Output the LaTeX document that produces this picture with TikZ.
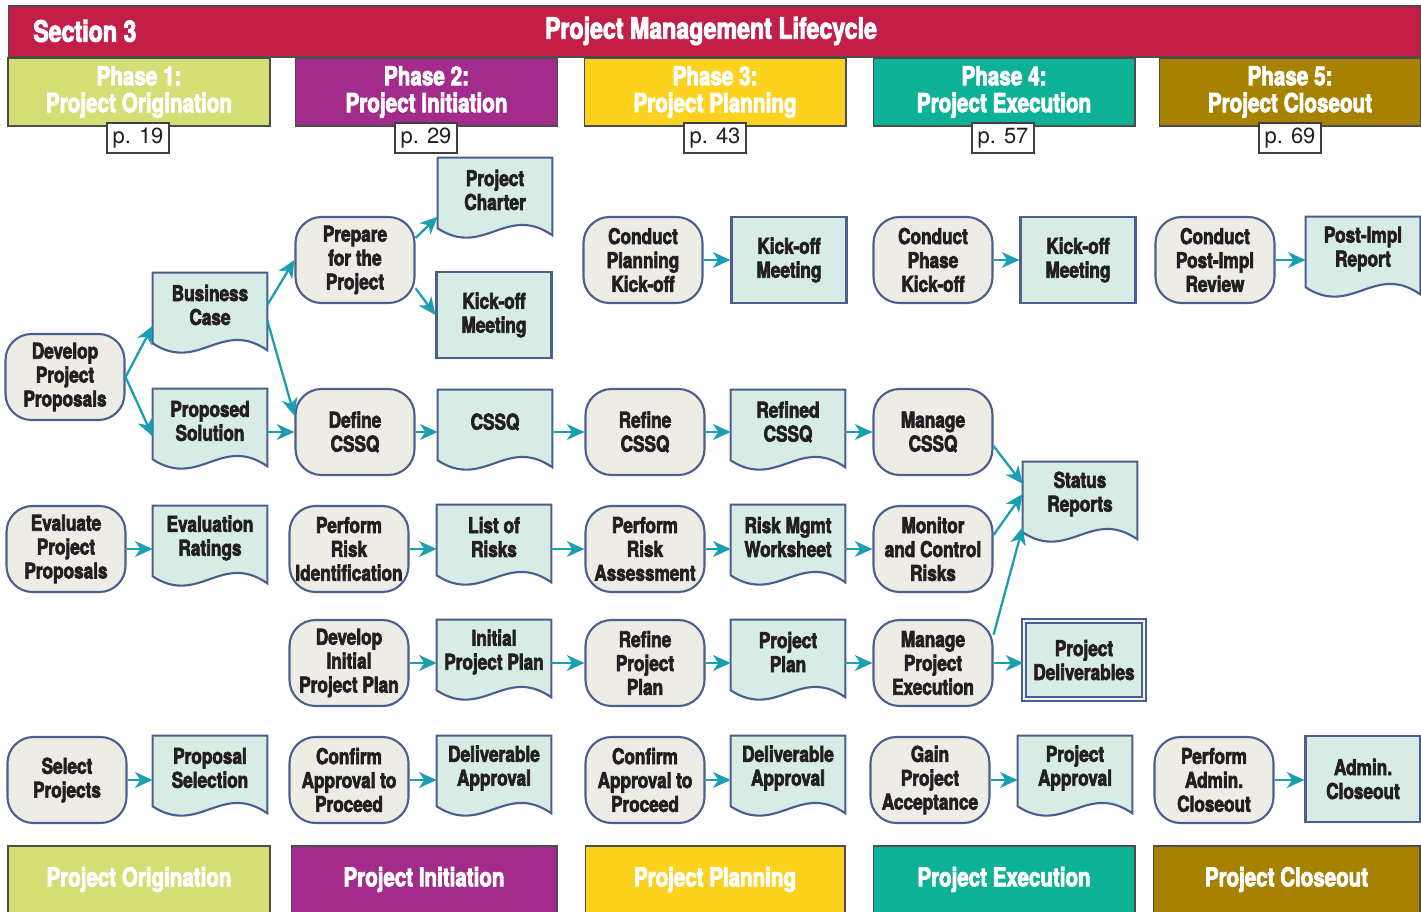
\documentclass[tikz,border=0pt]{standalone}
\usepackage{fontspec}
\setmainfont{TeX Gyre Heros}
\newfontfamily\condfont{TeX Gyre Heros}[FakeStretch=0.79, BoldFeatures={FakeBold=3}]
\usetikzlibrary{arrows.meta,calc,backgrounds}
\definecolor{hdrred}{RGB}{194,30,71}
\definecolor{phA}{RGB}{212,222,116}
\definecolor{phB}{RGB}{162,43,139}
\definecolor{phC}{RGB}{253,210,31}
\definecolor{phD}{RGB}{13,178,150}
\definecolor{phE}{RGB}{166,130,0}
\definecolor{procfill}{RGB}{237,237,230}
\definecolor{docfill}{RGB}{214,236,229}
\definecolor{bord}{RGB}{75,94,142}
\definecolor{arrowc}{RGB}{26,159,176}
\definecolor{ink}{RGB}{35,31,32}
\newcommand\dgnodefont{\condfont\bfseries\fontsize{12.4}{13.6}\selectfont}
\newcommand\dgphasefont{\condfont\bfseries\fontsize{14.9}{15.3}\selectfont}
\newcommand\dgfootfont{\condfont\bfseries\fontsize{14.8}{16}\selectfont}
\newcommand\dghdrfont{\condfont\bfseries\fontsize{16.7}{18}\selectfont}
\begin{document}
\begin{tikzpicture}[x=0.02cm,y=-0.02cm,
  proc/.style={rectangle, rounded corners=0.52cm, draw=bord, fill=procfill, line width=1.2pt,
    minimum width=2.38cm, minimum height=1.72cm, inner sep=1pt, align=center, text=ink, font=\dgnodefont},
  docn/.style={rectangle, minimum width=2.28cm, minimum height=1.4cm, inner sep=1pt, align=center, text=ink, font=\dgnodefont},
  kbox/.style={rectangle, draw=bord, fill=docfill, line width=1.2pt, minimum width=2.3cm, minimum height=1.72cm,
    inner sep=1pt, align=center, text=ink, font=\dgnodefont},
  deliv/.style={rectangle, draw=bord, fill=docfill, line width=0.8pt, double=white!60!docfill, double distance=1.3pt,
    minimum width=2.4cm, minimum height=1.56cm, inner sep=1pt, align=center, text=ink, font=\dgnodefont},
  docshape/.style={draw=bord, fill=docfill, line width=1.2pt, line join=miter},
  flow/.style={draw=arrowc, line width=1.3pt, -{Stealth[length=10pt,width=9pt,inset=3pt]}},
  phase/.style={rectangle, draw=black!70, line width=0.6pt, minimum width=5.24cm, minimum height=1.36cm,
    inner sep=0pt, text=white, align=center, font=\dgphasefont},
  foot/.style={rectangle, draw=black!70, line width=0.6pt, minimum height=1.34cm,
    inner sep=0pt, text=white, align=center, font=\dgfootfont},
  page/.style={rectangle, draw=black!75, fill=white, line width=0.6pt, minimum width=1.24cm, minimum height=0.6cm,
    inner sep=0pt, text=ink, font=\fontsize{12.5}{12.5}\selectfont},
  hdrtext/.style={text=white, font=\dghdrfont, inner sep=0pt}
]
\useasboundingbox (0,0) rectangle (1421,912);

% header
\node[rectangle, fill=hdrred, draw=black!70, line width=0.6pt, minimum width=28.26cm, minimum height=1.02cm, inner sep=0pt] (hdr) at (714.5,31.5) {};
\node[hdrtext, anchor=west] (sec) at (33,31) {Section 3};
\node[hdrtext] (title) at (711,31) {Project Management Lifecycle};

% phase boxes
\node[phase, fill=phA] (ph1) at (139,92) {Phase 1:\\Project Origination};
\node[phase, fill=phB] (ph2) at (426.5,92) {Phase 2:\\Project Initiation};
\node[phase, fill=phC] (ph3) at (715,92) {Phase 3:\\Project Planning};
\node[phase, fill=phD] (ph4) at (1004,92) {Phase 4:\\Project Execution};
\node[phase, fill=phE] (ph5) at (1290,92) {Phase 5:\\Project Closeout};

\node[page] (pg1) at (138,138) {p. 19};
\node[page] (pg2) at (426,138) {p. 29};
\node[page] (pg3) at (715,138) {p. 43};
\node[page] (pg4) at (1003,138) {p. 57};
\node[page] (pg5) at (1290,138) {p. 69};

% footer
\node[foot, fill=phA, minimum width=5.24cm] (f1) at (139,879.5) {Project Origination};
\node[foot, fill=phB, minimum width=5.32cm] (f2) at (424,879.5) {Project Initiation};
\node[foot, fill=phC, minimum width=5.2cm] (f3) at (715,879.5) {Project Planning};
\node[foot, fill=phD, minimum width=5.24cm] (f4) at (1004,879.5) {Project Execution};
\node[foot, fill=phE, minimum width=5.34cm] (f5) at (1286.5,879.5) {Project Closeout};

% phase 1
\node[proc] (devp) at (65,377) {Develop\\Project\\Proposals};
\node[docn] (bcase) at (210,305) {Business\\Case};
\node[docn] (psol) at (210,421) {Proposed\\Solution};
\node[proc] (evalp) at (66,549) {Evaluate\\Project\\Proposals};
\node[docn] (evalr) at (210,538) {Evaluation\\Ratings};
\node[proc] (selp) at (67,780) {Select\\Projects};
\node[docn] (propsel) at (210,768) {Proposal\\Selection};

% phase 2
\node[proc] (prep) at (355,260) {Prepare\\for the\\Project};
\node[docn] (charter) at (495,190) {Project\\Charter};
\node[kbox] (kom2) at (494,315) {Kick-off\\Meeting};
\node[proc] (defc) at (355,432) {Define\\CSSQ};
\node[docn] (cssq) at (495,422) {CSSQ};
\node[proc] (pri) at (349,549) {Perform\\Risk\\Identification};
\node[docn] (lor) at (494,537) {List of\\Risks};
\node[proc] (dipp) at (349,663) {Develop\\Initial\\Project Plan};
\node[docn] (ipp) at (494,652) {Initial\\Project Plan};
\node[proc] (cap2) at (349,780) {Confirm\\Approval to\\Proceed};
\node[docn] (da2) at (494,768) {Deliverable\\Approval};

% phase 3
\node[proc] (cpk) at (643,260) {Conduct\\Planning\\Kick-off};
\node[kbox] (kom3) at (789,260) {Kick-off\\Meeting};
\node[proc] (refc) at (645,432) {Refine\\CSSQ};
\node[docn] (rcssq) at (788,422) {Refined\\CSSQ};
\node[proc] (pra) at (645,549) {Perform\\Risk\\Assessment};
\node[docn] (rmw) at (788,537) {Risk Mgmt\\Worksheet};
\node[proc] (rpp) at (645,663) {Refine\\Project\\Plan};
\node[docn] (pplan) at (788,652) {Project\\Plan};
\node[proc] (cap3) at (645,780) {Confirm\\Approval to\\Proceed};
\node[docn] (da3) at (788,768) {Deliverable\\Approval};

% phase 4
\node[proc] (cphk) at (933,260) {Conduct\\Phase\\Kick-off};
\node[kbox] (kom4) at (1078,260) {Kick-off\\Meeting};
\node[proc] (mcssq) at (933,432) {Manage\\CSSQ};
\node[proc] (mcr) at (933,549) {Monitor\\and Control\\Risks};
\node[proc] (mpe) at (933,663) {Manage\\Project\\Execution};
\node[proc] (gpa) at (930,780) {Gain\\Project\\Acceptance};
\node[docn] (stat) at (1080,494) {Status\\Reports};
\node[deliv] (pdel) at (1084,660) {Project\\Deliverables};
\node[docn] (papp) at (1075,768) {Project\\Approval};

% phase 5
\node[proc] (cpir) at (1215,260) {Conduct\\Post-Impl\\Review};
\node[docn] (pir) at (1363,249) {Post-Impl\\Report};
\node[proc] (paa) at (1214,780) {Perform\\Admin.\\Closeout};
\node[kbox] (adm) at (1363,779) {Admin.\\Closeout};

% document shapes (outline shifted 3px below the text centre)
\begin{scope}[on background layer]
\foreach \n in {bcase,psol,evalr,propsel,charter,cssq,lor,ipp,da2,rcssq,rmw,pplan,da3,stat,papp,pir}{
  \path[docshape] ($(\n.north west)+(0,3)$) -- ($(\n.north east)+(0,3)$) -- ($(\n.south east)+(0,10)$)
    .. controls ($(\n.south east)+(-46,-22)$) and ($(\n.south west)+(46,33)$) .. ($(\n.south west)+(0,3)$) -- cycle;
}
\end{scope}

% connectors
\draw[flow] (devp.east) -- (bcase.200);
\draw[flow] (devp.east) -- (psol.195);
\draw[flow] (bcase.east) -- (prep.west);
\draw[flow] (bcase.-15) -- (defc.165);
\draw[flow] (psol.east |- defc.west) -- (defc.west);
\draw[flow] (prep.20) -- (charter.205);
\draw[flow] (prep.-25) -- (kom2.west);
\draw[flow] (defc.east) -- (defc.east -| cssq.west);
\draw[flow] (cssq.east |- refc.west) -- (refc.west);
\draw[flow] (refc.east) -- (refc.east -| rcssq.west);
\draw[flow] (rcssq.east |- mcssq.west) -- (mcssq.west);
\draw[flow] (mcssq.-13) -- (stat.170);
\draw[flow] (mcr.13) -- (stat.180);
\draw[flow] (mpe.25) -- (stat.210);
\draw[flow] (mpe.east) -- (mpe.east -| pdel.west);

\draw[flow] (evalp.east) -- (evalp.east -| evalr.west);
\draw[flow] (pri.east) -- (pri.east -| lor.west);
\draw[flow] (lor.east |- pra.west) -- (pra.west);
\draw[flow] (pra.east) -- (pra.east -| rmw.west);
\draw[flow] (rmw.east |- mcr.west) -- (mcr.west);

\draw[flow] (dipp.east) -- (dipp.east -| ipp.west);
\draw[flow] (ipp.east |- rpp.west) -- (rpp.west);
\draw[flow] (rpp.east) -- (rpp.east -| pplan.west);
\draw[flow] (pplan.east |- mpe.west) -- (mpe.west);

\draw[flow] (selp.east) -- (selp.east -| propsel.west);
\draw[flow] (cap2.east) -- (cap2.east -| da2.west);
\draw[flow] (cap3.east) -- (cap3.east -| da3.west);
\draw[flow] (gpa.east) -- (gpa.east -| papp.west);
\draw[flow] (paa.east) -- (paa.east -| adm.west);

\draw[flow] (cpk.east) -- (cpk.east -| kom3.west);
\draw[flow] (cphk.east) -- (cphk.east -| kom4.west);
\draw[flow] (cpir.east) -- (cpir.east -| pir.west);
\end{tikzpicture}
\end{document}
